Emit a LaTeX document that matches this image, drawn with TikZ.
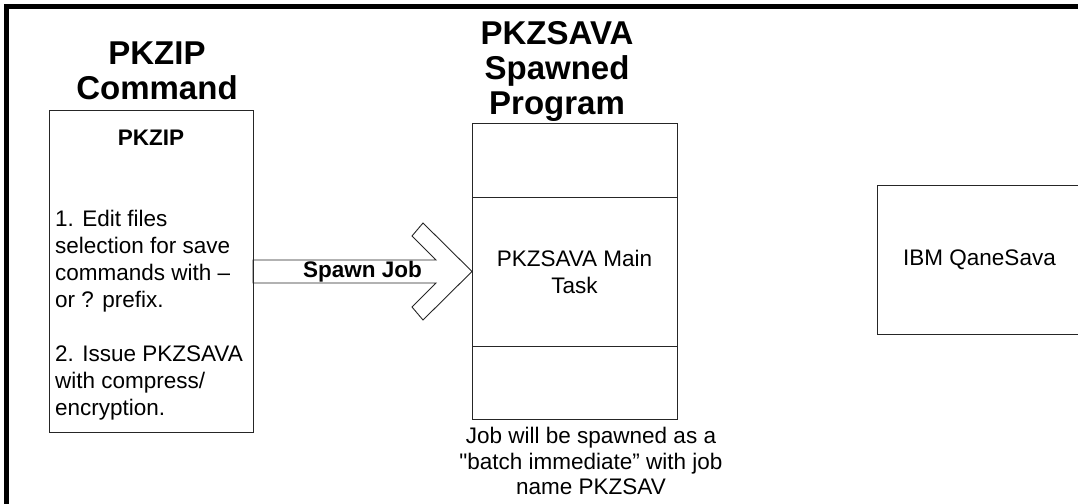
\documentclass[tikz,border=0pt]{standalone}
\usepackage{fontspec}
\setmainfont{Liberation Sans}[Ligatures=TeXOff]
\usetikzlibrary{positioning,calc}
\begin{document}
\begin{tikzpicture}[
  x=1pt, y=-1pt,
  font=\fontsize{22.5}{27}\selectfont,
  box/.style={draw=black!85, line width=0.9pt, inner sep=0pt, outer sep=0pt, minimum width=205},
  heading/.style={font=\fontsize{33}{35}\selectfont\bfseries, align=center, inner sep=0pt},
  note/.style={align=center, inner sep=0pt, font=\fontsize{22.5}{25.5}\selectfont},
  spawn/.style={draw=black!85, line width=0.9pt, line join=miter},
  ]
  \clip (0,0) rectangle (1078,503);
  % outer frame (cut off at right and bottom)
  \draw[line width=5pt] (6.5,540) -- (6.5,6.5) -- (1100,6.5);
  % left: PKZIP command
  \node[heading, anchor=north] (ttlzip) at (157,42) {PKZIP\\Command};
  \node[box, minimum width=204, minimum height=322] (pkzip) at (151,271) {};
  \node[anchor=base, inner sep=0pt] (ziphead) at (151,145) {\bfseries PKZIP};
  \node[anchor=north west, align=left, inner sep=0pt] (zipsteps) at (55,210)
    {1. Edit files\\selection for save\\commands with –\\or ? prefix.\\[27pt]2. Issue PKZSAVA\\with compress/\\encryption.};
  % middle: PKZSAVA spawned program
  \node[heading, anchor=north] (ttlsava) at (557,21) {PKZSAVA\\Spawned\\Program};
  \node[box, minimum height=149, align=center] (main) at (574.5,271.5) {PKZSAVA Main\\Task};
  \node[box, minimum height=74, above=0pt of main] (top) {};
  \node[box, minimum height=73, below=0pt of main] (bot) {};
  \node[note, anchor=north] (jobnote) at (591,427)
    {Job will be spawned as a\\"batch immediate” with job\\name PKZSAV};
  % spawn job arrow
  \coordinate (tip) at (main.west);
  \coordinate (root) at (pkzip.east |- main.west);
  \draw[spawn] ($(root)+(0,-11.5)$) -- ($(tip)+(-36,-11.5)$) -- ($(tip)+(-60,-35.5)$)
    -- ($(tip)+(-49,-48.5)$) -- (tip) -- ($(tip)+(-49,48.5)$) -- ($(tip)+(-60,35.5)$)
    -- ($(tip)+(-36,11.5)$) -- ($(root)+(0,11.5)$) -- cycle;
  \node[font=\fontsize{22.5}{26}\selectfont\bfseries, inner sep=0pt] (spawnlbl) at ($(root)!0.5!(tip)$) {Spawn Job};
  % right: IBM QaneSava
  \node[box, minimum height=149] (qane) at (979.5,259.5) {IBM QaneSava};
\end{tikzpicture}
\end{document}
